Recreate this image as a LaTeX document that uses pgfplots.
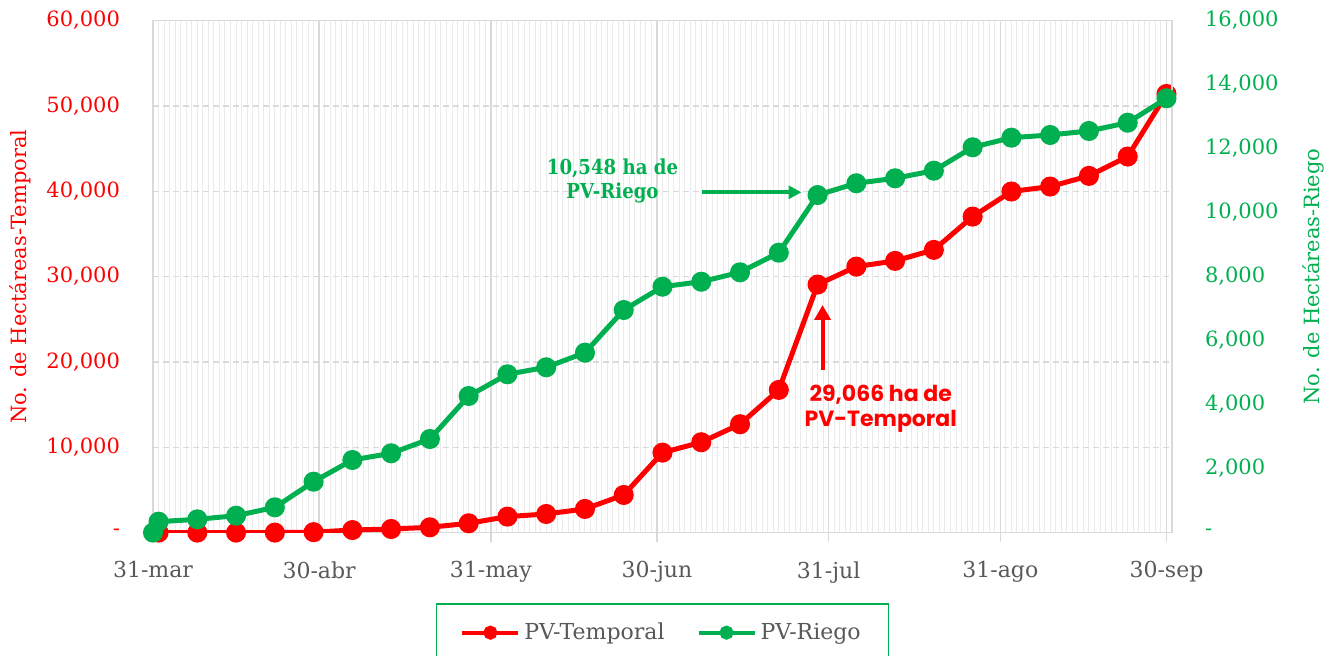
\documentclass[border=0pt]{standalone}
\usepackage{fontspec}
\setmainfont{DejaVu Serif}
\newfontfamily\annserif{DejaVu Serif}[FakeStretch=0.88]
\newfontfamily\anngeo{Poppins}
\usepackage{pgfplots}
\usepackage{pgfplotstable}
\pgfplotsset{compat=1.18}
\usetikzlibrary{arrows.meta}
\definecolor{pvred}{HTML}{FF0000}
\definecolor{pvgreen}{HTML}{00B050}
\definecolor{txtgray}{HTML}{595959}
\definecolor{gridgray}{HTML}{D9D9D9}
\definecolor{minorgray}{HTML}{EBEBEB}
\newcommand{\tickfont}{\fontsize{10.5}{12.6}\selectfont}
\newcommand{\xfont}{\fontsize{11}{13}\selectfont}

\pgfplotstableread{
day val
1 0
8 0
15 0
22 0
29 50
36 300
43 420
50 620
57 1090
64 1870
71 2180
78 2770
85 4410
92 9370
99 10590
106 12700
113 16720
120 29066
127 31170
134 31840
141 33130
148 37030
155 39970
162 40550
169 41800
176 44070
183 51400
}\redtable

\pgfplotstableread{
day val
0 0
1 341
8 415
15 528
22 790
29 1591
36 2269
43 2478
50 2925
57 4269
64 4947
71 5166
78 5622
85 6956
92 7684
99 7840
106 8134
113 8747
120 10548
127 10916
134 11072
141 11309
148 12041
155 12341
162 12425
169 12550
176 12809
183 13572
}\greentable

\begin{document}
\begin{tikzpicture}
\useasboundingbox (0,0) rectangle (668.5pt,328pt);
\begin{axis}[
  at={(76.5pt,61.7pt)}, anchor=south west,
  scale only axis, width=509.5pt, height=256pt,
  xmin=0, xmax=184, ymin=0, ymax=60000,
  scaled y ticks=false, scaled x ticks=false,
  xtick={0,30,61,91,122,153,183},
  xticklabels={31-mar,30-abr,31-may,30-jun,31-jul,31-ago,30-sep},
  minor xtick={0,...,184},
  ytick={0,10000,20000,30000,40000,50000,60000},
  yticklabels={-,{10,000},{20,000},{30,000},{40,000},{50,000},{60,000}},
  xmajorgrids, xminorgrids, ymajorgrids,
  major x grid style={line width=0.75pt, draw=gridgray},
  minor x grid style={line width=0.5pt, draw=minorgray},
  major y grid style={line width=0.75pt, draw=gridgray, dash pattern=on 3pt off 2pt},
  axis line style={draw=gridgray, line width=0.75pt},
  xtick pos=bottom, ytick pos=left,
  tick align=outside,
  major tick length=4.5pt, minor tick length=0pt,
  xtick style={draw=gridgray, line width=0.75pt},
  ytick style={draw=none},
  xticklabel style={text=txtgray, font=\xfont, yshift=-6.5pt},
  yticklabel style={text=pvred, font=\tickfont, xshift=-8.5pt},
  ylabel={No. de Hectáreas-Temporal},
  ylabel style={at={(axis description cs:-0.1305,0.5)}, anchor=center, text=pvred, font=\tickfont},
]
\addplot[pvred, line width=2.5pt, mark=*, mark size=3.75pt, mark options={solid}] table[x=day,y=val]{\redtable};
\draw[-{Triangle[width=8pt,length=7.5pt]}, pvred, line width=2pt] (axis cs:120.9,19055) -- (axis cs:120.9,26672);
\node[text=pvred, font=\anngeo\bfseries\fontsize{11}{12.5}\selectfont, align=center] at (axis cs:131.4,14484) {29,066 ha de\\PV-Temporal};
\end{axis}
\begin{axis}[
  at={(76.5pt,61.7pt)}, anchor=south west,
  scale only axis, width=509.5pt, height=256pt,
  xmin=0, xmax=184, ymin=0, ymax=16000,
  scaled y ticks=false, scaled x ticks=false,
  axis x line=none, axis y line*=right,
  axis line style={draw=gridgray, line width=0.75pt},
  ytick={0,2000,4000,6000,8000,10000,12000,14000,16000},
  yticklabels={-,{2,000},{4,000},{6,000},{8,000},{10,000},{12,000},{14,000},{16,000}},
  ytick style={draw=none},
  yticklabel style={text=pvgreen, font=\tickfont, anchor=west, xshift=13pt},
  ylabel={No. de Hectáreas-Riego},
  ylabel style={at={(axis description cs:1.1384,0.5)}, anchor=center, text=pvgreen, font=\tickfont},
  legend columns=2,
  legend style={at={(0.5,-0.1375)}, anchor=north, draw=pvgreen, line width=0.8pt,
    font=\xfont, text=txtgray, inner xsep=12pt, inner ysep=7.5pt,
    /tikz/every even column/.append style={column sep=14pt}},
  legend image code/.code={\draw[line width=2pt, mark size=2.5pt, mark repeat=2, mark phase=2] plot coordinates {(0pt,0pt) (14pt,0pt) (28pt,0pt)};},
]
\addlegendimage{pvred, line width=2.5pt, mark=*, mark options={solid}}
\addlegendentry{PV-Temporal}
\addplot[pvgreen, line width=2.5pt, mark=*, mark size=3.75pt, mark options={solid}] table[x=day,y=val]{\greentable};
\addlegendentry{PV-Riego}
\draw[-{Triangle[width=6.5pt,length=6.5pt]}, pvgreen, line width=2pt] (axis cs:99.1,10634) -- (axis cs:117.1,10634);
\node[text=pvgreen, font=\annserif\bfseries\fontsize{10.3}{12}\selectfont, align=center] at (axis cs:82.97,10988) {10,548 ha de\\PV-Riego};
\end{axis}
\end{tikzpicture}
\end{document}
